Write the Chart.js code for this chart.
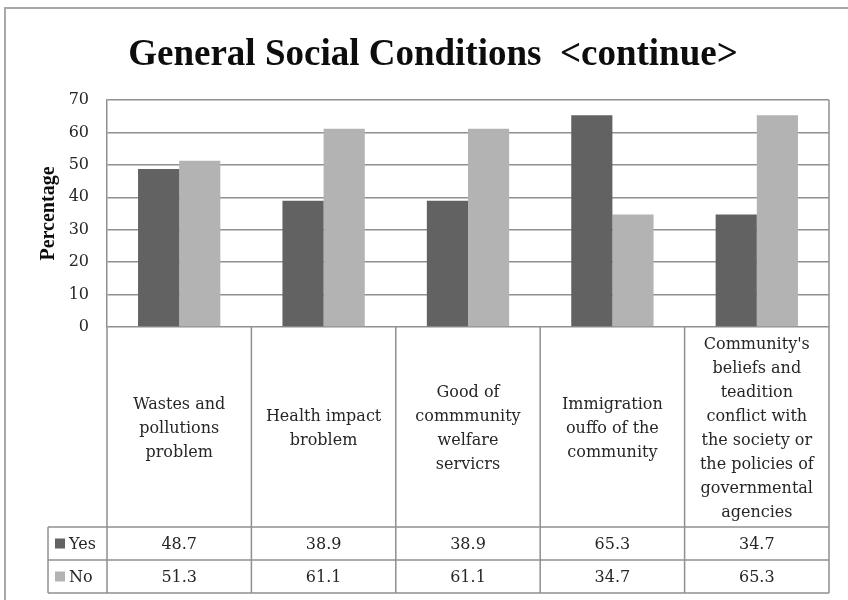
<!DOCTYPE html>
<html>
<head>
<meta charset="utf-8">
<title>General Social Conditions</title>
<script src="https://cdn.jsdelivr.net/npm/chart.js"></script>
<style>
  body { margin: 0; background: #fff; }
  #wrap { width: 848px; height: 600px; }
</style>
</head>
<body>
<div id="wrap"><canvas id="socialChart" width="848" height="600"></canvas></div>
<script>
// Categorías (cada elemento es una línea del texto en la tabla)
const categories = [
    ['Wastes and', 'pollutions', 'problem'],
    ['Health impact', 'broblem'],
    ['Good of', 'commmunity', 'welfare', 'servicrs'],
    ['Immigration', 'ouffo of the', 'community'],
    ["Community's", 'beliefs and', 'teadition', 'conflict with', 'the society or', 'the policies of', 'governmental', 'agencies']
];
const yesValues = [48.7, 38.9, 38.9, 65.3, 34.7];
const noValues = [51.3, 61.1, 61.1, 34.7, 65.3];
const yTicks = [0, 10, 20, 30, 40, 50, 60, 70];

const tableFont = '16px "DejaVu Serif"';
const textColor = '#262626';
const lineColor = '#909090';

// Marco exterior del gráfico (sale del lienzo por la derecha y abajo)
const outerFrame = {
    id: 'outerFrame',
    beforeDraw(chart) {
        const ctx = chart.ctx;
        ctx.save();
        ctx.fillStyle = '#ffffff';
        ctx.fillRect(0, 0, chart.width, chart.height);
        ctx.strokeStyle = '#a8a8a8';
        ctx.lineWidth = 2;
        ctx.strokeRect(5, 8, chart.width + 20, chart.height + 20);
        ctx.restore();
    }
};

// Tabla de datos debajo del área del gráfico
const dataTable = {
    id: 'dataTable',
    afterDraw(chart) {
        const ctx = chart.ctx;
        const x = chart.scales.x;
        const area = chart.chartArea;
        const half = (x.getPixelForValue(1) - x.getPixelForValue(0)) / 2;
        const top = area.bottom;
        const catBottom = top + 200;
        const rowH = 33;
        const legendLeft = 48;
        const bottom = catBottom + rowH * 2;

        ctx.save();
        ctx.strokeStyle = lineColor;
        ctx.lineWidth = 1.5;

        // borde derecho del área de trazado
        ctx.beginPath();
        ctx.moveTo(area.right, area.top);
        ctx.lineTo(area.right, area.bottom);
        ctx.stroke();

        // líneas verticales de las columnas
        ctx.beginPath();
        for (let i = 0; i <= categories.length; i++) {
            const px = i < categories.length ? x.getPixelForValue(i) - half : x.getPixelForValue(i - 1) + half;
            ctx.moveTo(px, top);
            ctx.lineTo(px, bottom);
        }
        // columna de leyenda y filas
        ctx.moveTo(legendLeft, catBottom);
        ctx.lineTo(legendLeft, bottom);
        for (let r = 0; r <= 2; r++) {
            ctx.moveTo(legendLeft, catBottom + r * rowH);
            ctx.lineTo(area.right, catBottom + r * rowH);
        }
        ctx.stroke();

        ctx.font = tableFont;
        ctx.fillStyle = textColor;
        ctx.textAlign = 'center';
        ctx.textBaseline = 'middle';

        // nombres de las categorías
        const lh = 24;
        const midY = (top + catBottom) / 2 + 2;
        categories.forEach(function (lines, i) {
            const cx = x.getPixelForValue(i);
            const y0 = midY - (lines.length - 1) * lh / 2;
            lines.forEach(function (t, k) {
                ctx.fillText(t, cx, y0 + k * lh);
            });
        });

        // filas de valores con su clave de color
        chart.data.datasets.forEach(function (ds, r) {
            const cy = catBottom + r * rowH + rowH / 2;
            ctx.fillStyle = ds.backgroundColor;
            ctx.fillRect(legendLeft + 7, cy - 5, 10, 10);
            ctx.fillStyle = textColor;
            ctx.textAlign = 'left';
            ctx.fillText(ds.label, legendLeft + 21, cy + 1);
            ctx.textAlign = 'center';
            ds.data.forEach(function (v, i) {
                ctx.fillText(v.toFixed(1), x.getPixelForValue(i), cy + 1);
            });
        });
        ctx.restore();
    }
};

const ctx1 = document.getElementById('socialChart').getContext('2d');
new Chart(ctx1, {
    type: 'bar',
    data: {
        labels: categories,
        datasets: [
            {
                label: 'Yes',
                data: yesValues,
                backgroundColor: '#626262',
                borderWidth: 0
            },
            {
                label: 'No',
                data: noValues,
                backgroundColor: '#b3b3b3',
                borderWidth: 0
            }
        ]
    },
    options: {
        responsive: false,
        animation: false,
        devicePixelRatio: 1,
        layout: {
            padding: { left: 37, right: 19, top: 0, bottom: 273 }
        },
        datasets: {
            bar: { categoryPercentage: 0.57, barPercentage: 1.0 }
        },
        plugins: {
            legend: { display: false },
            tooltip: { enabled: false },
            title: {
                display: true,
                text: 'General Social Conditions  <continue>',
                color: '#0d0d0d',
                font: { family: '"Liberation Serif"', size: 37, weight: 'bold', lineHeight: 1.2 },
                padding: { top: 33, bottom: 22.6 }
            }
        },
        scales: {
            x: {
                display: false
            },
            y: {
                min: yTicks[0],
                max: yTicks[yTicks.length - 1],
                afterFit: function (scale) { scale.width = 70; },
                ticks: {
                    stepSize: yTicks[1] - yTicks[0],
                    padding: 18,
                    color: textColor,
                    font: { family: '"DejaVu Serif"', size: 16 }
                },
                grid: {
                    color: lineColor,
                    lineWidth: 1.5,
                    drawTicks: false
                },
                border: { display: true, color: lineColor, width: 1.5 },
                title: {
                    display: true,
                    text: 'Percentage',
                    color: '#0d0d0d',
                    padding: 0,
                    font: { family: '"Liberation Serif"', size: 20, weight: 'bold' }
                }
            }
        }
    },
    plugins: [outerFrame, dataTable]
});
</script>
</body>
</html>
